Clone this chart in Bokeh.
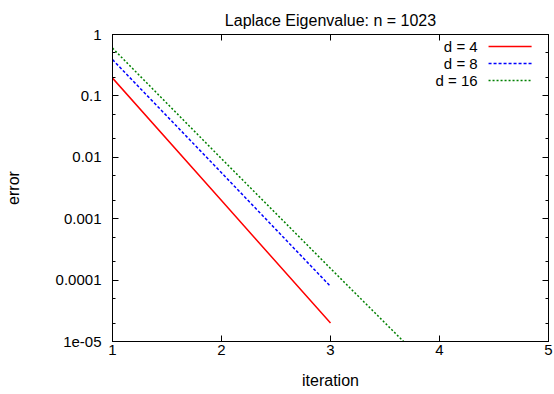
from bokeh.plotting import figure
from bokeh.models import (Range1d, FixedTicker, LinearAxis, LogAxis, Label, Arrow,
                          CustomJSTickFormatter)
from bokeh.embed import file_html
from bokeh.resources import INLINE

# ---- data ----
iterations_d4 = [1, 2, 3]
error_d4 = [0.195, 0.00197, 2.0e-5]
iterations_d8 = [1, 2, 3]
error_d8 = [0.39, 0.0056, 7.9e-5]
iterations_d16 = [1, 2, 3, 4]
error_d16 = [0.60, 0.0095, 1.55e-4, 2.6e-6]

series_labels = ["d = 4", "d = 8", "d = 16"]
series_colors = ["#ff0000", "#0000ff", "#008000"]
series_dashes = ["solid", "3 2", "2 2"]

x_ticks = [1, 2, 3, 4, 5]
y_ticks = [1e-5, 1e-4, 1e-3, 1e-2, 1e-1, 1]
y_tick_labels = ["1e-05", "0.0001", "0.001", "0.01", "0.1", "1"]
y_minor_ticks = [2e-5, 5e-5, 2e-4, 5e-4, 2e-3, 5e-3, 2e-2, 5e-2, 2e-1, 5e-1]

# legend placement (data coordinates inside the plot frame)
legend_text_x = 4.35
legend_line_x = (4.45, 4.845)
legend_rows_y = [0.638, 0.337, 0.178]

FONT = "Liberation Sans"

p = figure(width=554, height=394, y_axis_type="log",
           x_range=Range1d(1, 5), y_range=Range1d(1e-5, 1),
           output_backend="svg", toolbar_location=None,
           min_border_left=112, min_border_right=6,
           min_border_top=34, min_border_bottom=53,
           title="Laplace Eigenvalue: n = 1023")

p.title.align = "center"
p.title.text_font = FONT
p.title.text_font_size = "16px"
p.title.text_font_style = "normal"
p.title.text_color = "black"
p.title.standoff = 12
p.title.offset = 0

p.outline_line_color = "black"
p.outline_line_width = 1
p.xgrid.grid_line_color = None
p.ygrid.grid_line_color = None
p.background_fill_color = "white"
p.border_fill_color = "white"

def style_axis(ax):
    ax.axis_line_color = "black"
    ax.major_tick_line_color = "black"
    ax.minor_tick_line_color = "black"
    ax.major_tick_in = 6
    ax.major_tick_out = 0
    ax.major_label_text_font = FONT
    ax.major_label_text_font_size = "15px"
    ax.major_label_text_color = "black"
    ax.axis_label_text_font = FONT
    ax.axis_label_text_font_size = "16px"
    ax.axis_label_text_font_style = "normal"
    ax.axis_label_text_color = "black"

# bottom x axis
xa = p.xaxis[0]
xa.ticker = FixedTicker(ticks=x_ticks)
style_axis(xa)
xa.minor_tick_in = 0
xa.minor_tick_out = 0
xa.major_label_standoff = 3
xa.axis_label = "iteration"
xa.axis_label_standoff = 14

# left y axis
ya = p.yaxis[0]
ya.ticker = FixedTicker(ticks=y_ticks, minor_ticks=y_minor_ticks)
style_axis(ya)
ya.minor_tick_in = 3
ya.minor_tick_out = 0
ya.major_label_standoff = 11
ya.axis_label = "error"
ya.axis_label_standoff = 31
ya.formatter = CustomJSTickFormatter(args=dict(yvals=y_ticks, ylabs=y_tick_labels), code="""
let best = 0, bd = 1e9;
for (let i = 0; i < yvals.length; i++) {
  const d = Math.abs(Math.log10(yvals[i]) - Math.log10(tick));
  if (d < bd) { bd = d; best = i; }
}
return ylabs[best];
""")

# mirrored ticks on top and right (no labels)
top = LinearAxis(ticker=FixedTicker(ticks=x_ticks),
                 formatter=CustomJSTickFormatter(code="return '';"))
style_axis(top)
top.minor_tick_in = 0
top.minor_tick_out = 0
top.major_label_standoff = 2
p.add_layout(top, "above")

right = LogAxis(ticker=FixedTicker(ticks=y_ticks, minor_ticks=y_minor_ticks),
                formatter=CustomJSTickFormatter(code="return '';"))
style_axis(right)
right.minor_tick_in = 3
right.minor_tick_out = 0
right.major_label_standoff = 0
p.add_layout(right, "right")

# data lines
xs = [iterations_d4, iterations_d8, iterations_d16]
ys = [error_d4, error_d8, error_d16]
for x, y, c, d in zip(xs, ys, series_colors, series_dashes):
    p.line(x, y, line_color=c, line_width=1.5, line_dash=d)

# gnuplot-style key: label on the left, line sample on the right
for lab, c, d, yy in zip(series_labels, series_colors, series_dashes, legend_rows_y):
    p.add_layout(Label(x=legend_text_x, y=yy, text=lab, text_align="right",
                       text_baseline="middle", text_font=FONT,
                       text_font_size="15px", text_color="black"))
    p.add_layout(Arrow(start=None, end=None, x_start=legend_line_x[0], y_start=yy,
                       x_end=legend_line_x[1], y_end=yy, line_color=c,
                       line_width=1.5, line_dash=d))

open("out.html", "w").write(file_html(p, INLINE))
